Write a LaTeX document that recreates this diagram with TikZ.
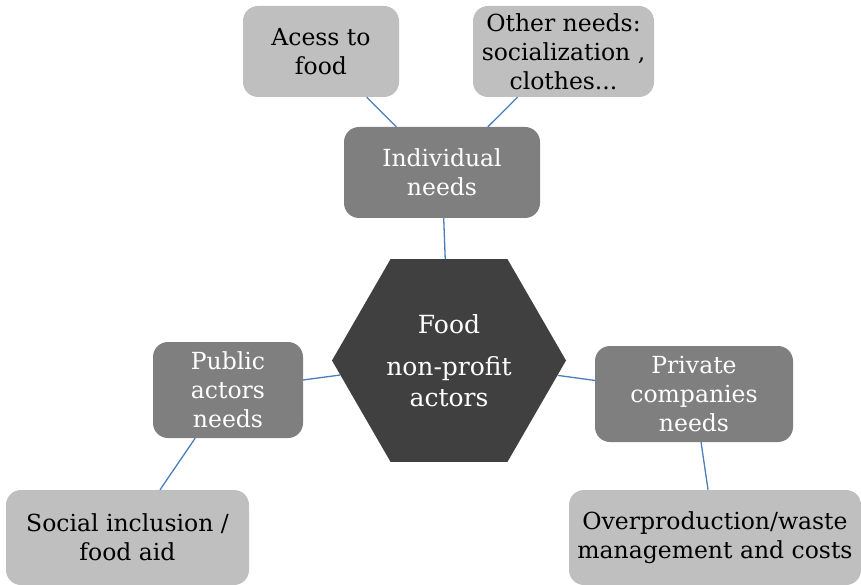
\documentclass[tikz,border=0pt]{standalone}
\usepackage{fontspec}
\setmainfont{DejaVu Serif}
\usetikzlibrary{shapes.geometric}

\definecolor{lightfill}{HTML}{BFBFBF}
\definecolor{midfill}{HTML}{7F7F7F}
\definecolor{darkfill}{HTML}{404040}
\definecolor{linkblue}{HTML}{4A7EBB}

\begin{document}
\begin{tikzpicture}[x=1pt, y=-1pt,
  box/.style={rectangle, rounded corners=15pt, inner sep=0pt, align=center,
    font=\fontsize{23.5}{29}\selectfont},
  lightbox/.style={box, fill=lightfill, text=black},
  midbox/.style={box, fill=midfill, text=white},
  hexnode/.style={regular polygon, regular polygon sides=6, minimum size=234pt,
    inner sep=0pt, fill=darkfill, text=white, align=center,
    font=\fontsize{25}{31}\selectfont},
  link/.style={draw=linkblue, line width=1.3pt}]
  \useasboundingbox (0,0) rectangle (861,585);

  % centre
  \node[hexnode] (food) at (449,360.5) {Food\\[11pt]non-profit\\actors};

  % actors around it
  \node[midbox, minimum width=196pt, minimum height=91pt] (indiv) at (442,172.5) {Individual\\needs};
  \node[midbox, minimum width=150pt, minimum height=96pt] (public) at (228,390) {Public\\actors\\needs};
  \node[midbox, minimum width=198pt, minimum height=96pt] (private) at (694,394) {Private\\companies\\needs};

  % what they need
  \node[lightbox, minimum width=156pt, minimum height=91pt] (access) at (321,51.5) {Acess to\\food};
  \node[lightbox, minimum width=181pt, minimum height=91pt] (other) at (563.5,51.5) {Other needs:\\socialization ,\\clothes...};
  \node[lightbox, minimum width=243pt, minimum height=95pt] (social) at (127.5,537.5) {Social inclusion /\\food aid};
  \node[lightbox, minimum width=292pt, minimum height=95pt] (waste) at (715,537.5) {Overproduction/waste\\management and costs};

  % links
  \draw[link] (access) -- (indiv);
  \draw[link] (other) -- (indiv);
  \draw[link] (indiv) -- (food);
  \draw[link] (public) -- (food);
  \draw[link] (food) -- (private);
  \draw[link] (public) -- (social);
  \draw[link] (private) -- (waste);
\end{tikzpicture}
\end{document}
